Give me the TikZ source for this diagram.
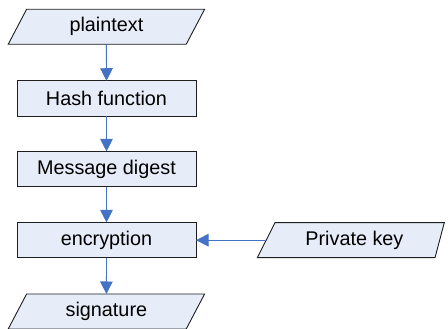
\documentclass[tikz,border=0pt]{standalone}
\usepackage{fontspec}
\setmainfont{Liberation Sans}
\usetikzlibrary{arrows.meta}
\definecolor{boxfill}{RGB}{230,236,248}
\definecolor{arrowblue}{RGB}{68,114,196}
\definecolor{edgecol}{RGB}{30,30,30}
\begin{document}
\begin{tikzpicture}[x=1pt,y=1pt,
  lbl/.style={inner sep=0pt, outer sep=0pt, font=\fontsize{19.8}{24}\selectfont, text=black},
  procbox/.style={lbl, draw=edgecol, line width=0.9pt, fill=boxfill, minimum width=179pt, minimum height=35.5pt},
  iobox/.style={lbl, minimum width=178pt, minimum height=35pt},
  pshape/.style={draw=edgecol, line width=0.9pt, fill=boxfill},
  flow/.style={draw=arrowblue, line width=0.9pt, -{Triangle[length=12.5pt,width=12.5pt]}}
]
\useasboundingbox (0,0) rectangle (448,329);
% parallelogram nodes (text holders)
\node[iobox] (pt) at (106.4,302.2) {};
\node[iobox] (sig) at (106.4,17.5) {};
\node[lbl, minimum width=173.5pt, minimum height=35pt] (pk) at (352.9,88.8) {};
% parallelogram outlines
\path[pshape] ([xshift=-9.2pt]pt.south west) -- ([xshift=-9.2pt]pt.south east) -- ([xshift=9.2pt]pt.north east) -- ([xshift=9.2pt]pt.north west) -- cycle;
\path[pshape] ([xshift=-9.2pt]sig.south west) -- ([xshift=-9.2pt]sig.south east) -- ([xshift=9.2pt]sig.north east) -- ([xshift=9.2pt]sig.north west) -- cycle;
\path[pshape] ([xshift=-8.85pt]pk.south west) -- ([xshift=-4.65pt]pk.south east) -- ([xshift=4.65pt]pk.north east) -- ([xshift=8.85pt]pk.north west) -- cycle;
% texts on parallelograms
\node[lbl] (pttext) at (pt.center) {plaintext};
\node[lbl] (sigtext) at (sig.center) {signature};
\node[lbl] (pktext) at ([xshift=1.5pt]pk.center) {Private key};
% process boxes
\node[procbox] (hash) at (106.5,230.5) {Hash function};
\node[procbox] (md) at (106.5,159.8) {Message digest};
\node[procbox] (enc) at (106.5,88.8) {encryption};
% connectors
\draw[flow] (pt.south) -- (hash.north);
\draw[flow] (hash.south) -- (md.north);
\draw[flow] (md.south) -- (enc.north);
\draw[flow] (enc.south) -- (sig.north);
\draw[flow] (pk.west) -- (enc.east);
\end{tikzpicture}
\end{document}
